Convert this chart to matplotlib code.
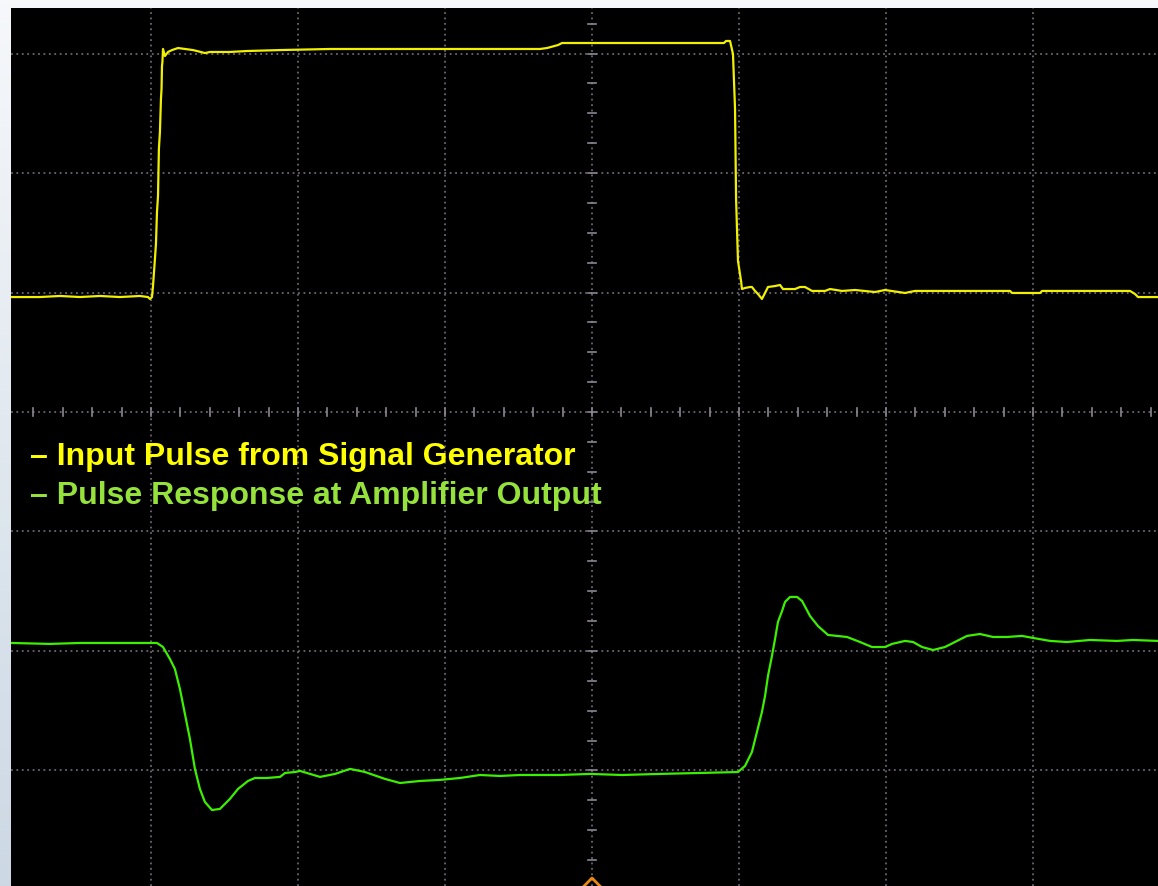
from typing import List
import numpy as np
import matplotlib
matplotlib.use("Agg")
import matplotlib.pyplot as plt

# screen units are scope divisions, centre of the graticule is (0, 0)
# channel 1: input pulse (yellow)
ch1_t: List[float] = [
	-3.952, -3.755, -3.619, -3.483, -3.347, -3.211, -3.075, -3.020, -3.007, -2.993,
	-2.986, -2.973, -2.966, -2.959, -2.952, -2.946, -2.939, -2.932, -2.928, -2.925,
	-2.922, -2.918, -2.905, -2.884, -2.857, -2.816, -2.714, -2.687, -2.633, -2.599,
	-2.463, -2.347, -2.122, -1.782, -1.306, -0.830, -0.354, -0.306, -0.231, -0.204,
	0.054, 0.395, 0.735, 0.898, 0.912, 0.939, 0.959, 0.973, 0.980, 0.993,
	1.014, 1.020, 1.041, 1.075, 1.088, 1.109, 1.129, 1.156, 1.177, 1.197,
	1.245, 1.279, 1.299, 1.381, 1.415, 1.449, 1.497, 1.585, 1.619, 1.701,
	1.789, 1.925, 1.993, 2.129, 2.197, 2.844, 2.857, 3.048, 3.061, 3.490,
	3.660, 3.694, 3.714, 3.850]
ch1_v: List[float] = [
	0.962, 0.962, 0.971, 0.962, 0.971, 0.962, 0.971, 0.962, 0.946, 0.962,
	1.054, 1.280, 1.406, 1.674, 1.808, 2.201, 2.343, 2.619, 2.703, 2.895,
	2.929, 3.038, 2.979, 3.013, 3.029, 3.046, 3.029, 3.021, 3.004, 3.013,
	3.013, 3.021, 3.029, 3.038, 3.038, 3.038, 3.038, 3.046, 3.071, 3.088,
	3.088, 3.088, 3.088, 3.088, 3.105, 3.105, 2.996, 2.536, 1.782, 1.264,
	1.096, 1.029, 1.038, 1.046, 1.046, 1.013, 0.987, 0.946, 0.996, 1.046,
	1.054, 1.063, 1.029, 1.029, 1.046, 1.046, 1.013, 1.013, 1.029, 1.013,
	1.021, 1.004, 1.021, 0.996, 1.013, 1.013, 0.996, 0.996, 1.013, 1.013,
	1.013, 0.987, 0.962, 0.962]

# channel 2: amplifier output (green)
ch2_t: List[float] = [
	-3.952, -3.687, -3.483, -3.279, -3.075, -2.973, -2.959, -2.918, -2.871, -2.837,
	-2.803, -2.769, -2.735, -2.701, -2.667, -2.633, -2.585, -2.531, -2.463, -2.408,
	-2.340, -2.293, -2.211, -2.122, -2.088, -2.020, -1.986, -1.850, -1.748, -1.646,
	-1.544, -1.408, -1.306, -1.170, -1.034, -0.898, -0.762, -0.626, -0.490, -0.218,
	-0.014, 0.204, 0.463, 0.735, 0.993, 1.041, 1.088, 1.122, 1.156, 1.177,
	1.197, 1.224, 1.245, 1.265, 1.293, 1.313, 1.347, 1.395, 1.429, 1.483,
	1.537, 1.605, 1.735, 1.823, 1.905, 1.993, 2.041, 2.129, 2.184, 2.245,
	2.320, 2.401, 2.483, 2.551, 2.639, 2.728, 2.823, 2.925, 3.000, 3.116,
	3.231, 3.388, 3.571, 3.680, 3.850]
ch2_v: List[float] = [
	-1.933, -1.941, -1.933, -1.933, -1.933, -1.933, -1.933, -1.967, -2.067, -2.151,
	-2.318, -2.527, -2.736, -2.987, -3.155, -3.264, -3.331, -3.322, -3.238, -3.155,
	-3.088, -3.063, -3.063, -3.054, -3.021, -3.013, -3.004, -3.054, -3.029, -2.987,
	-3.013, -3.071, -3.105, -3.088, -3.079, -3.063, -3.038, -3.046, -3.038, -3.038,
	-3.029, -3.038, -3.029, -3.021, -3.013, -2.962, -2.845, -2.678, -2.510, -2.377,
	-2.209, -2.042, -1.900, -1.757, -1.665, -1.590, -1.548, -1.548, -1.582, -1.707,
	-1.791, -1.866, -1.883, -1.925, -1.967, -1.967, -1.941, -1.916, -1.925, -1.967,
	-1.992, -1.967, -1.916, -1.874, -1.858, -1.883, -1.883, -1.874, -1.891, -1.916,
	-1.925, -1.908, -1.916, -1.908, -1.916]

legend_lines: List[str] = ["\u2013 Input Pulse from Signal Generator",
						   "\u2013 Pulse Response at Amplifier Output"]
legend_colors: List[str] = ["#ffff00", "#96e23c"]

W, H = 1158, 887
fig = plt.figure(figsize=(W / 100, H / 100), dpi=100)

# light slide background on the left/top border
bg = fig.add_axes([0, 0, 1, 1])
grad = np.linspace(0, 1, 256).reshape(-1, 1)
top_col = np.array([0.965, 0.973, 0.984])
bot_col = np.array([0.800, 0.847, 0.894])
img = top_col + (bot_col - top_col) * grad[:, :, None]
bg.imshow(img, aspect="auto", extent=(0, 1, 0, 1), origin="upper")
bg.axis("off")

ax = fig.add_axes([11 / W, 0, (W - 11) / W, (H - 9) / H])
ax.set_facecolor("black")
ax.set_xlim(-3.952, 3.850)
ax.set_ylim(-3.967, 3.381)
for s in ax.spines.values():
	s.set_visible(False)
ax.set_xticks([])
ax.set_yticks([])

grid_col = "#6c6672"
for gx in range(-3, 4):
	ax.axvline(gx, color=grid_col, lw=1.3, ls=(0, (1, 2)), zorder=1)
for gy in range(-3, 4):
	ax.axhline(gy, color=grid_col, lw=1.3, ls=(0, (1, 2)), zorder=1)

# minor ticks on the centre crosshair
tick_col = "#8c8692"
for tx in np.arange(-3.8, 3.9, 0.2):
	ax.plot([tx, tx], [-0.033, 0.033], color=tick_col, lw=1.2, zorder=1)
for ty in np.arange(-3.75, 3.4, 0.25):
	ax.plot([-0.027, 0.027], [ty, ty], color=tick_col, lw=1.2, zorder=1)

ax.plot(ch1_t, ch1_v, color="#f0f000", lw=1.6, zorder=3)
ax.plot(ch2_t, ch2_v, color="#3cf000", lw=1.6, zorder=3)

# trigger position marker at the bottom
ax.plot([-0.08, 0, 0.08], [-4.0, -3.9, -4.0], color="#e88a10", lw=2, zorder=4, clip_on=True)

for i, (txt, col) in enumerate(zip(legend_lines, legend_colors)):
	fig.text(30 / W, (H - 465 - 39 * i) / H, txt, color=col, fontsize=23,
			 fontweight="bold", family=["Liberation Sans", "DejaVu Sans"], va="baseline")

plt.savefig("out.png", dpi=100)
